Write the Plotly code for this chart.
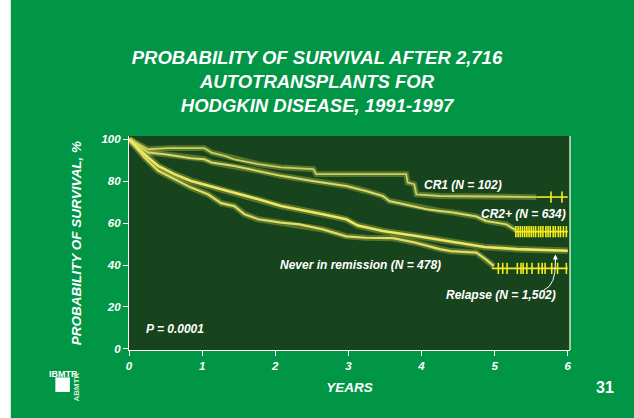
import plotly.graph_objects as go

# survival curves (years, % surviving)
cr1_x = [0, 0.26, 0.54, 1.03, 1.13, 1.31, 1.44, 1.77, 2.08, 2.52, 2.56, 3.79, 3.81, 3.90, 3.93, 4.25, 5.57]
cr1_y = [100, 95.2, 95.7, 95.7, 93.6, 92.0, 90.4, 88.1, 86.5, 85.7, 83.3, 83.3, 79.3, 78.5, 73.7, 72.9, 72.4]
cr1_tail_x = [5.57, 6.0]
cr1_tail_y = [72.4, 72.4]
cr1_cens = [5.77, 5.92]

cr2_x = [0, 0.26, 0.49, 0.85, 1.03, 1.13, 1.44, 1.77, 2.08, 2.51, 2.97, 3.24, 3.47, 3.56, 3.89, 4.07, 4.25, 4.43, 4.75, 4.88, 5.16, 5.28]
cr2_y = [100, 93.6, 92.8, 90.9, 90.4, 88.9, 87.2, 84.9, 82.5, 80.1, 77.7, 75.3, 72.9, 70.5, 68.1, 66.6, 65.8, 65.0, 63.1, 61.0, 59.4, 56.8]
cr2_tail_x = [5.27, 6.0]
cr2_tail_y = [55.9, 55.9]
cr2_cens = [5.29, 5.32, 5.35, 5.38, 5.41, 5.44, 5.47, 5.50, 5.53, 5.56, 5.60, 5.63, 5.66,
            5.70, 5.73, 5.76, 5.80, 5.83, 5.87, 5.90, 5.94, 5.98]

rel_x = [0, 0.21, 0.40, 0.62, 0.85, 1.17, 1.44, 1.77, 2.08, 2.65, 2.97, 3.13, 3.47, 3.93, 4.40, 4.86, 5.30, 6.0]
rel_y = [100, 92.8, 87.2, 83.3, 80.1, 76.9, 74.5, 71.3, 68.1, 64.2, 61.8, 58.8, 56.2, 53.8, 51.0, 48.6, 47.6, 46.8]

nev_x = [0, 0.21, 0.40, 0.62, 0.85, 1.08, 1.26, 1.44, 1.58, 1.77, 2.08, 2.33, 2.65, 2.97, 3.24, 3.61, 3.90, 4.25, 4.40, 4.75, 4.88, 4.99]
nev_y = [100, 91.3, 84.9, 80.9, 76.9, 73.7, 69.5, 68.1, 64.2, 61.8, 60.2, 59.4, 57.0, 53.7, 53.0, 52.8, 50.8, 47.6, 46.6, 45.9, 42.7, 39.5]
nev_tail_x = [4.96, 6.0]
nev_tail_y = [38.4, 38.4]
nev_cens = [5.05, 5.11, 5.17, 5.31, 5.36, 5.39, 5.44, 5.51, 5.60, 5.65, 5.69, 5.78, 5.86, 5.98]

x_ticks = [0, 1, 2, 3, 4, 5, 6]
y_ticks = [0, 20, 40, 60, 80, 100]

GREEN = "#009645"
PLOT_BG = "#17441c"
YELLOW = "#f7ec1c"
FONT = "Liberation Sans"

fig = go.Figure()


def glow_line(xs, ys, core, width=2.2):
    # soft halo + bright core, like the projected slide
    fig.add_trace(go.Scatter(x=xs, y=ys, mode="lines", line=dict(color="rgba(205,205,70,0.35)", width=width + 4),
                             hoverinfo="skip", showlegend=False))
    fig.add_trace(go.Scatter(x=xs, y=ys, mode="lines", line=dict(color=core, width=width),
                             hoverinfo="skip", showlegend=False))


def censored(xs, ys, marks, y):
    fig.add_trace(go.Scatter(x=xs, y=ys, mode="lines", line=dict(color=YELLOW, width=1.6),
                             hoverinfo="skip", showlegend=False))
    fig.add_trace(go.Scatter(x=marks, y=[y] * len(marks), mode="markers",
                             marker=dict(symbol="line-ns-open", size=8, color=YELLOW,
                                         line=dict(color=YELLOW, width=1.6)),
                             hoverinfo="skip", showlegend=False))


glow_line(cr1_x, cr1_y, "#c9cf6a", 1.8)
glow_line(cr2_x, cr2_y, "#d8da6e", 2)
glow_line(nev_x, nev_y, "#e0dc68", 2.2)
glow_line(rel_x, rel_y, "#eee766", 2.6)

censored(cr1_tail_x, cr1_tail_y, cr1_cens, cr1_tail_y[0])
censored(cr2_tail_x, cr2_tail_y, cr2_cens, cr2_tail_y[0])
censored(nev_tail_x, nev_tail_y, nev_cens, nev_tail_y[0])

lab = dict(family=FONT, size=12, color="white")
notes = [
    ("CR1 (N = 102)", 4.0, 78.0),
    ("CR2+ (N = 634)", 4.78, 64.2),
    ("Never in remission (N = 478)", 2.04, 39.8),
    ("Relapse (N = 1,502)", 4.31, 25.5),
    ("P = 0.0001", 0.21, 9.7),
]
for txt, x, y in notes:
    fig.add_annotation(x=x, y=y, text="<b><i>" + txt + "</i></b>", showarrow=False,
                       xanchor="left", yanchor="middle", font=lab)

# curved pointer from the Relapse label to its curve
fig.add_shape(type="path", path="M 5.67 28.0 Q 5.84 30.5 5.83 41.5",
              line=dict(color="white", width=1), xref="x", yref="y")
fig.add_annotation(x=5.83, y=45.0, ax=5.83, ay=40.5, axref="x", ayref="y", xref="x", yref="y",
                   text="", showarrow=True, arrowhead=2, arrowsize=1, arrowwidth=1, arrowcolor="white")

# right frame edge
fig.add_shape(type="line", xref="paper", yref="paper", x0=1, x1=1, y0=0, y1=1,
              line=dict(color="#cfe6cf", width=1.5))
# white strip at the slide's left edge
fig.add_shape(type="rect", xref="paper", yref="paper", x0=-0.32, x1=-0.268, y0=-0.4, y1=1.7,
              fillcolor="white", line=dict(width=0), layer="below")

# IBMTR / ABMTR logo
fig.add_shape(type="rect", xref="paper", yref="paper", x0=-0.167, x1=-0.134, y0=-0.196, y1=-0.128,
              fillcolor="white", line=dict(width=0))
fig.add_annotation(xref="paper", yref="paper", x=-0.185, y=-0.11, text="<b>IBMTR</b>", showarrow=False,
                   xanchor="left", yanchor="middle", font=dict(family=FONT, size=9, color="white"))
fig.add_annotation(xref="paper", yref="paper", x=-0.12, y=-0.175, text="<b>ABMTR</b>", showarrow=False,
                   textangle=-90, xanchor="center", yanchor="middle",
                   font=dict(family=FONT, size=8, color="#dbeedb"))

fig.add_annotation(xref="paper", yref="paper", x=1.08, y=-0.175, text="<b>31</b>", showarrow=False,
                   xanchor="center", yanchor="middle", font=dict(family=FONT, size=16, color="white"))

tickfont = dict(family=FONT, size=11.5, color="white")
fig.update_layout(
    width=634, height=418,
    margin=dict(l=129, r=64, t=136, b=68),
    paper_bgcolor=GREEN, plot_bgcolor=PLOT_BG,
    title=dict(text="<b><i>PROBABILITY OF SURVIVAL AFTER 2,716<br>AUTOTRANSPLANTS FOR<br>HODGKIN DISEASE, 1991-1997</i></b>",
               x=0.5, xref="container", xanchor="center", y=0.848, yanchor="middle",
               font=dict(family=FONT, size=18.5, color="white")),
    showlegend=False,
)
fig.update_xaxes(range=[0, 6.03], tickvals=x_ticks, ticktext=["<b><i>%d</i></b>" % v for v in x_ticks],
                 showgrid=False, zeroline=False, showline=True, linecolor="white", linewidth=1.2,
                 ticks="outside", ticklen=5, tickcolor="white", tickfont=tickfont,
                 title=dict(text="<b><i>YEARS</i></b>", font=dict(family=FONT, size=13.5, color="white"), standoff=11))
fig.update_yaxes(range=[-0.5, 101.5], tickvals=y_ticks, ticktext=["<b><i>%d</i></b>" % v for v in y_ticks],
                 showgrid=False, zeroline=False, showline=True, linecolor="white", linewidth=1.2,
                 ticks="outside", ticklen=5, tickcolor="white", tickfont=tickfont,
                 title=dict(text="<b><i>PROBABILITY OF SURVIVAL, %</i></b>",
                            font=dict(family=FONT, size=13.5, color="white"), standoff=16))

fig.write_html("out.html", config={"displayModeBar": False},
               post_script="document.body.style.margin='0';")
